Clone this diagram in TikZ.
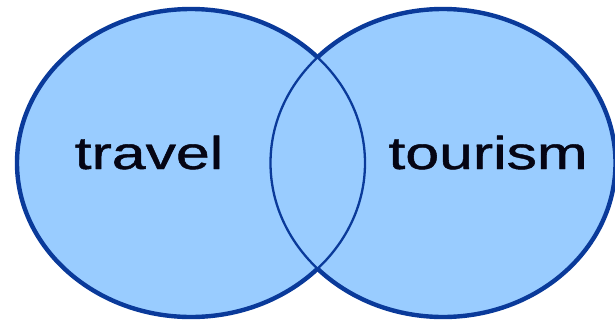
\documentclass[tikz,border=0pt]{standalone}
\usepackage{fontspec}
\setmainfont{Liberation Sans}
\newfontfamily\labelfont[FakeBold=0.9]{Liberation Sans}
\definecolor{fillV}{RGB}{153,204,255}
\definecolor{lineV}{RGB}{10,58,154}
\definecolor{textV}{RGB}{5,5,20}
\newcommand{\leftset}{(191,163) ellipse [x radius=174, y radius=154]}
\newcommand{\rightset}{(443,163) ellipse [x radius=172.5, y radius=154]}

\begin{document}
\begin{tikzpicture}[x=1pt, y=-1pt, line join=round,
  setlabel/.style={textV, font=\labelfont\fontsize{46}{50}\selectfont, xscale=1.32, anchor=base, inner sep=0pt}]
\useasboundingbox (0,0) rectangle (615,322);
% 两个集合：先填色，再描边
\fill[fillV] \leftset;
\fill[fillV] \rightset;
\draw[lineV, line width=2.3] \leftset;
\draw[lineV, line width=2.3] \rightset;
% 外轮廓加粗（交集内保持细线）
\begin{scope}[even odd rule]
  \clip (-10,-10) rectangle (625,332) \rightset;
  \draw[lineV, line width=4.4] \leftset;
\end{scope}
\begin{scope}[even odd rule]
  \clip (-10,-10) rectangle (625,332) \leftset;
  \draw[lineV, line width=4.4] \rightset;
\end{scope}
% 标签
\node[setlabel] (travel) at (149,169) {travel};
\node[setlabel] (tourism) at (488,169) {tourism};
\end{tikzpicture}
\end{document}
